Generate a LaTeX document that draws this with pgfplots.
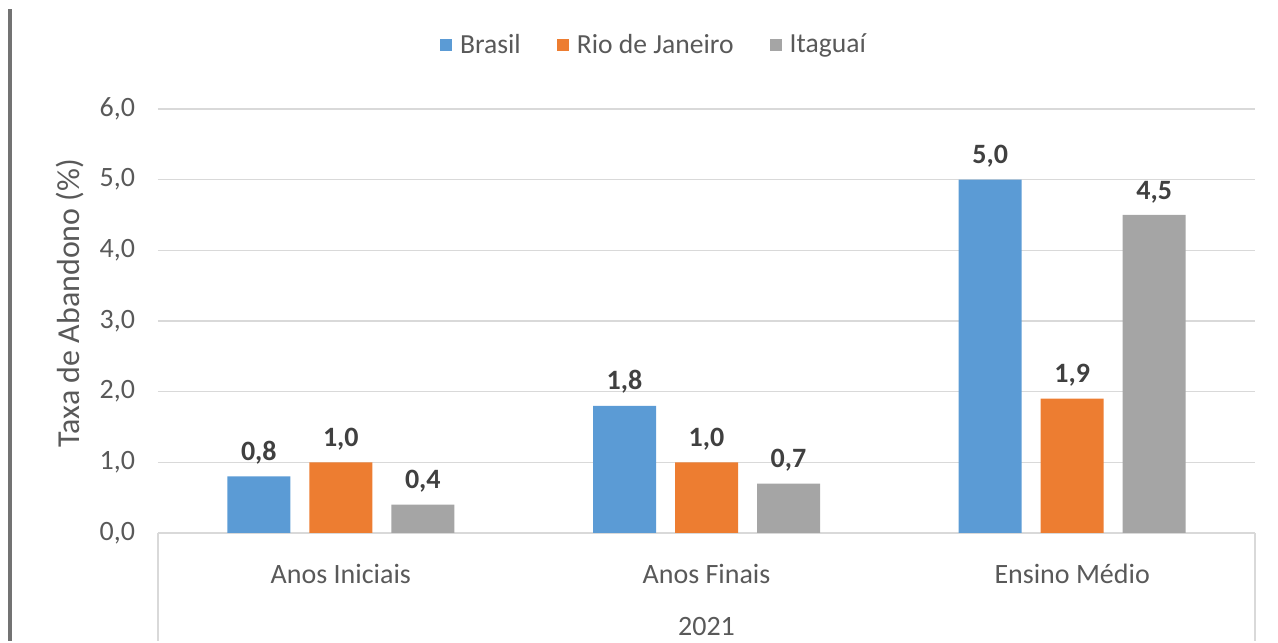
\documentclass[border=0pt]{standalone}
\usepackage{pgfplots}
\pgfplotsset{compat=1.18}
\usepackage{fontspec}
\setmainfont{Carlito}

\definecolor{cblue}{HTML}{5B9BD5}
\definecolor{corange}{HTML}{ED7D31}
\definecolor{cgray}{HTML}{A5A5A5}
\definecolor{txt}{HTML}{595959}
\definecolor{grd}{HTML}{D9D9D9}

\begin{document}
\begin{tikzpicture}
\begin{axis}[
  scale only axis,
  width=548.5pt, height=212pt,
  clip=false,
  ybar=9.5pt, bar width=31.5pt,
  xmin=-0.5, xmax=2.5,
  ymin=0, ymax=6,
  ytick={0,1,2,3,4,5,6},
  xtick={0,1,2},
  xticklabels={Anos Iniciais, Anos Finais, Ensino Médio},
  major tick length=0pt,
  axis line style={draw=none},
  ymajorgrids,
  grid style={grd, line width=0.8pt},
  every tick label/.append style={font=\fontsize{14}{16}\selectfont, text=txt},
  xticklabel style={yshift=-12pt},
  yticklabel style={xshift=-8pt},
  /pgf/number format/assume math mode=true,
  yticklabel={\pgfmathprintnumber[fixed, fixed zerofill, precision=1, use comma]{\tick}},
  ylabel={Taxa de Abandono (\%)},
  ylabel style={font=\fontsize{16}{18}\selectfont, text=txt, at={(rel axis cs:0,0.5)}, anchor=center, yshift=44pt, xshift=9pt},
  nodes near coords,
  nodes near coords style={font=\bfseries\fontsize{14}{16}\selectfont, text=black!75, yshift=2.5pt,
    /pgf/number format/.cd, fixed, fixed zerofill, precision=1, use comma, assume math mode=true},
  legend columns=3,
  legend style={draw=none, fill=none, at={(0.453,1.0)}, yshift=32pt, anchor=center,
    font=\fontsize{13.8}{16}\selectfont, text=txt,
    /tikz/every even column/.append style={column sep=16pt},
    /tikz/every odd column/.append style={column sep=2pt}},
  legend image code/.code={\fill[#1] (0pt,-3pt) rectangle (6pt,3pt);},
]
\addplot[fill=cblue, draw=none] coordinates {(0,0.8) (1,1.8) (2,5.0)};
\addplot[fill=corange, draw=none] coordinates {(0,1.0) (1,1.0) (2,1.9)};
\addplot[fill=cgray, draw=none] coordinates {(0,0.4) (1,0.7) (2,4.5)};
\legend{Brasil, Rio de Janeiro, Itaguaí}
\draw[grd, line width=0.8pt] (rel axis cs:0,0) -- ([yshift=-54pt]rel axis cs:0,0);
\draw[grd, line width=0.8pt] (rel axis cs:1,0) -- ([yshift=-54pt]rel axis cs:1,0);
\node[font=\fontsize{14}{16}\selectfont, text=txt] at ([yshift=-47pt]rel axis cs:0.5,0) {2021};
\end{axis}
\fill[black!55] (-75pt,-54pt) rectangle (-73pt,262pt);
\useasboundingbox (-79pt,-54pt) rectangle (560pt,266.5pt);
\end{tikzpicture}
\end{document}
